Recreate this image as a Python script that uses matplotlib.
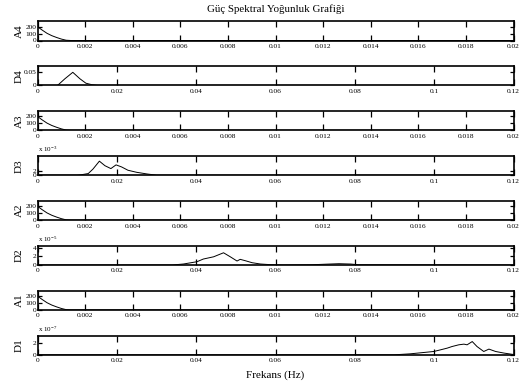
import numpy as np
import matplotlib
matplotlib.use("Agg")
import matplotlib.pyplot as plt

plt.rcParams['font.family'] = ['Liberation Serif', 'DejaVu Serif']
plt.rcParams['mathtext.fontset'] = 'custom'
plt.rcParams['mathtext.rm'] = 'Liberation Serif'
plt.rcParams['mathtext.it'] = 'Liberation Serif:italic'

# Approximation-band spectra (A1..A4), frequency in Hz
a_freq = [0.0, 0.0002, 0.0004, 0.0006, 0.0008, 0.0010, 0.0012, 0.0014, 0.02]
a_psd = [200, 150, 104, 70, 44, 21, 4, 0, 0]

# Detail-band spectra
d4_freq = [0.0, 0.0050, 0.00525, 0.0069, 0.0089, 0.0107, 0.0122, 0.0137, 0.0150, 0.12]
d4_psd = [0.0, 0.0, 0.0025, 0.024, 0.0475, 0.024, 0.008, 0.0025, 0.0, 0.0]

d3_freq = [0.0, 0.0100, 0.0110, 0.0128, 0.0140, 0.0156, 0.0170, 0.0185,
           0.0198, 0.0212, 0.0228, 0.0250, 0.0276, 0.0300, 0.12]
d3_psd = [0.0, 0.0, 0.2, 0.8, 3.0, 6.8, 4.6, 3.2, 5.0, 4.0, 2.4, 1.4, 0.6, 0.0, 0.0]  # x 1e-3

d2_freq = [0.0, 0.0340, 0.0368, 0.0402, 0.0418, 0.0444, 0.0469, 0.0486, 0.0503,
           0.0511, 0.0524, 0.0541, 0.0562, 0.0587, 0.0620, 0.0690, 0.0730,
           0.0760, 0.0790, 0.0810, 0.12]
d2_psd = [0.0, 0.0, 0.23, 0.76, 1.38, 1.9, 2.83, 1.9, 0.92, 1.31, 0.99, 0.53,
          0.23, 0.08, 0.0, 0.05, 0.2, 0.3, 0.22, 0.05, 0.0]  # x 1e-5

d1_freq = [0.0, 0.0900, 0.0940, 0.0999, 0.1016, 0.1033, 0.1045, 0.1062, 0.1075,
           0.1083, 0.1096, 0.1108, 0.1125, 0.1138, 0.1155, 0.1176, 0.1200]
d1_psd = [0.0, 0.0, 0.16, 0.54, 0.81, 1.09, 1.35, 1.63, 1.74, 1.63, 2.16,
          1.35, 0.54, 0.93, 0.54, 0.28, 0.05]  # x 1e-7

a_xticks = [0, 0.002, 0.004, 0.006, 0.008, 0.01, 0.012, 0.014, 0.016, 0.018, 0.02]
a_xlabels = ['0', '0.002', '0.004', '0.006', '0.008', '0.01', '0.012', '0.014',
             '0.016', '0.018', '0.02']
d_xticks = [0, 0.02, 0.04, 0.06, 0.08, 0.1, 0.12]
d_xlabels = ['0', '0.02', '0.04', '0.06', '0.08', '0.1', '0.12']

panels = [
    # name, x, y, xlim, xticks, xlabels, ylim, yticks, ylabels, exponent
    ('A4', a_freq, a_psd, 0.02, a_xticks, a_xlabels, 275, [0, 100, 200], ['0', '100', '200'], None),
    ('D4', d4_freq, d4_psd, 0.12, d_xticks, d_xlabels, 0.069, [0, 0.05], ['0', '0.05'], None),
    ('A3', a_freq, a_psd, 0.02, a_xticks, a_xlabels, 275, [0, 100, 200], ['0', '100', '200'], None),
    ('D3', d3_freq, d3_psd, 0.12, d_xticks, d_xlabels, 9.2, [0, 2], ['0', '2'], -3),
    ('A2', a_freq, a_psd, 0.02, a_xticks, a_xlabels, 275, [0, 100, 200], ['0', '100', '200'], None),
    ('D2', d2_freq, d2_psd, 0.12, d_xticks, d_xlabels, 4.4, [0, 2, 4], ['0', '2', '4'], -5),
    ('A1', a_freq, a_psd, 0.02, a_xticks, a_xlabels, 275, [0, 100, 200], ['0', '100', '200'], None),
    ('D1', d1_freq, d1_psd, 0.12, d_xticks, d_xlabels, 3.1, [0, 2], ['0', '2'], -7),
]

W, H = 522, 387
fig = plt.figure(figsize=(W / 100, H / 100), dpi=100)

left_px, right_px = 37.5, 513.5
top0, step, height = 21.5, 44.9, 19.0

axes = []
for i, (name, x, y, xmax, xt, xl, ymax, yt, yl, expo) in enumerate(panels):
    top = top0 + i * step
    ax = fig.add_axes([left_px / W, 1 - (top + height) / H,
                       (right_px - left_px) / W, height / H])
    ax.plot(x, y, color='black', lw=0.7)
    ax.set_xlim(0, xmax)
    ax.set_ylim(0, ymax)
    ax.set_xticks(xt)
    ax.set_xticklabels(xl)
    ax.set_yticks(yt)
    ax.set_yticklabels(yl)
    ax.tick_params(axis='both', direction='in', top=True, right=True,
                   labelsize=5.3, width=0.9, colors='black')
    ax.tick_params(axis='x', length=4.5, pad=2.5)
    ax.tick_params(axis='y', length=3.0, pad=0.8)
    for sp in ax.spines.values():
        sp.set_linewidth(1.2)
    ax.set_ylabel(name, fontsize=8, rotation=90)
    ax.yaxis.set_label_coords(-0.028, 0.5)
    if expo is not None:
        ax.text(0.0, 1.12, 'x 10$^{%d}$' % expo, transform=ax.transAxes,
                fontsize=5, ha='left', va='bottom')
    axes.append(ax)

axes[0].set_title('Güç Spektral Yoğunluk Grafiği', fontsize=7.8, pad=7)
axes[-1].set_xlabel('Frekans (Hz)', fontsize=8, labelpad=5)

fig.savefig('out.png', dpi=100, facecolor='white')
